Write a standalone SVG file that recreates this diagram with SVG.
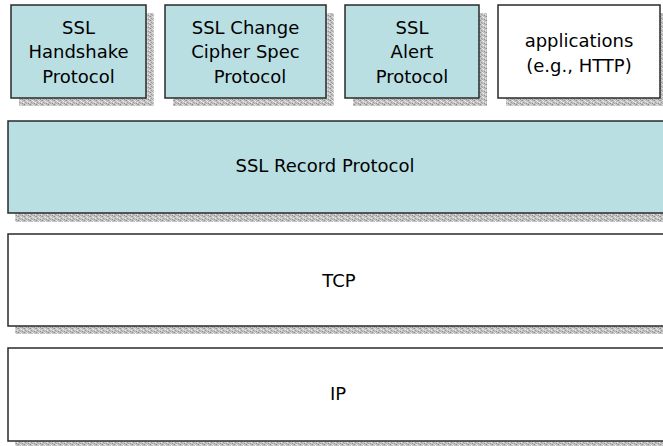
<svg xmlns="http://www.w3.org/2000/svg" width="663" height="446" viewBox="0 0 663 446">
<defs>
<pattern id="noise" width="6" height="4" patternUnits="userSpaceOnUse">
<rect width="6" height="4" fill="#c4c4c4"/>
<rect x="0" y="0" width="1" height="1" fill="#8a8a8a"/>
<rect x="3" y="1" width="1" height="1" fill="#eeeeee"/>
<rect x="1" y="2" width="1" height="1" fill="#9a9a9a"/>
<rect x="4" y="3" width="1" height="1" fill="#909090"/>
<rect x="2" y="0" width="1" height="1" fill="#e4e4e4"/>
<rect x="5" y="2" width="1" height="1" fill="#f0f0f0"/>
<rect x="2" y="3" width="1" height="1" fill="#a8a8a8"/>
<rect x="5" y="0" width="1" height="1" fill="#b0b0b0"/>
</pattern>
</defs>
<style>
.box{stroke:#2a2a2a;stroke-width:1.5}
.blue{fill:#b9dfe3}
.white{fill:#ffffff}
.sh{fill:url(#noise)}
text{font-family:"DejaVu Sans","Liberation Sans",sans-serif;font-size:18px;fill:#000;text-anchor:middle}
</style>
<rect width="663" height="446" fill="#fff"/>
<g id="handshake">
<rect class="sh" x="19" y="13" width="135" height="93"/>
<rect class="box blue" x="11" y="5" width="135" height="93"/>
<text x="78.5" y="34">SSL</text>
<text x="78.5" y="58">Handshake</text>
<text x="78.5" y="83">Protocol</text>
</g>
<g id="changecipher">
<rect class="sh" x="173" y="13" width="161" height="93"/>
<rect class="box blue" x="165" y="5" width="161" height="93"/>
<text x="245.5" y="34">SSL Change</text>
<text x="245.5" y="58">Cipher Spec</text>
<text x="250" y="83">Protocol</text>
</g>
<g id="alert">
<rect class="sh" x="353" y="13" width="134" height="93"/>
<rect class="box blue" x="345" y="5" width="134" height="93"/>
<text x="412" y="34">SSL</text>
<text x="412" y="58">Alert</text>
<text x="412" y="83">Protocol</text>
</g>
<g id="applications">
<rect class="sh" x="506" y="13" width="162" height="93"/>
<rect class="box white" x="498" y="5" width="162" height="93"/>
<text x="579" y="47">applications</text>
<text x="579" y="72">(e.g., HTTP)</text>
</g>
<g id="record">
<rect class="sh" x="15" y="129" width="660" height="93"/>
<rect class="box blue" x="8" y="121" width="665" height="92"/>
<text x="325" y="172">SSL Record Protocol</text>
</g>
<g id="tcp">
<rect class="sh" x="15" y="242" width="660" height="92"/>
<rect class="box white" x="8" y="234" width="665" height="92"/>
<text x="339" y="287">TCP</text>
</g>
<g id="ip">
<rect class="sh" x="15" y="356" width="660" height="92"/>
<rect class="box white" x="8" y="348" width="665" height="93"/>
<text x="338" y="400">IP</text>
</g>
<g id="connectors"/>
</svg>
